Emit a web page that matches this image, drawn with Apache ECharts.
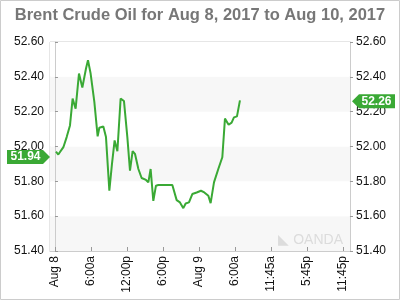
<!DOCTYPE html>
<html>
<head>
<meta charset="utf-8">
<script src="https://cdn.jsdelivr.net/npm/echarts@6/dist/echarts.min.js"></script>
<style>html,body{margin:0;padding:0;background:#fff}#c{width:400px;height:300px}</style>
</head>
<body>
<div id="c"></div>
<script>
// Hours since Aug 8, 00:00 (x axis is uniform: 6h per label step)
var hours = [0.17,0.55,1.4,1.95,2.5,2.94,3.44,4.0,4.56,5.17,5.5,5.94,6.56,7.11,7.39,8.06,8.5,9.06,9.5,9.94,10.4,10.94,11.5,12.06,12.5,12.94,13.33,13.9,14.44,15.17,15.56,15.94,16.39,16.83,17.22,19.56,20.28,20.83,21.39,21.78,22.33,22.89,23.61,24.33,24.89,25.56,25.94,26.5,27.22,27.89,28.33,28.5,28.94,29.44,29.83,30.33,30.83];
var prices = [51.97,51.954,51.996,52.054,52.121,52.275,52.217,52.419,52.338,52.448,52.496,52.419,52.256,52.058,52.108,52.115,52.054,51.746,51.9,52.035,51.973,52.275,52.261,52.054,51.861,51.973,51.958,51.871,51.819,51.808,51.794,51.871,51.688,51.775,51.779,51.779,51.692,51.679,51.646,51.673,51.679,51.727,51.736,51.746,51.736,51.717,51.675,51.794,51.871,51.938,52.16,52.165,52.125,52.137,52.167,52.173,52.265];
var tickHours = [0,6,12,18,24,30,36,42,48];
var tickLabels = ['Aug 8','6:00a','12:00p','6:00p','Aug 9','6:00a','11:45a','5:45p','11:45p'];
var openPrice = 51.94;
var lastPrice = 52.26;
var title = 'Brent Crude Oil for Aug 8, 2017 to Aug 10, 2017';

var xMin = -0.83, xMax = 49.17;
var green = '#3aa935';
var chart = echarts.init(document.getElementById('c'));
var yLabel = {fontFamily:'Liberation Sans, Arial', fontSize:12, color:'#111', formatter:function(v){return v.toFixed(2);}, margin:6};
chart.setOption({
  animation:false,
  title:{text:title, left:'center', top:2, textStyle:{fontFamily:'Liberation Sans, Arial', fontSize:16.5, fontWeight:'bold', color:'#777'}},
  grid:{left:50, right:50, top:42, bottom:49, show:true, borderColor:'#ccc', borderWidth:1},
  graphic:[
    {type:'rect', shape:{x:0.5,y:0.5,width:399,height:299}, style:{fill:'none', stroke:'#ccc', lineWidth:1}, z:-1},
    {type:'text', right:57, bottom:53, style:{text:'◣ OANDA', fill:'#dcdcdc', font:'14px Liberation Sans, Arial'}, z:1}
  ],
  xAxis:{type:'value', min:xMin, max:xMax,
    axisLine:{show:true, lineStyle:{color:'#ccc'}},
    axisTick:{show:true, inside:true, length:4, customValues:tickHours, lineStyle:{color:'#999'}},
    axisLabel:{customValues:tickHours, rotate:90, fontFamily:'Liberation Sans, Arial', fontSize:12, color:'#111', margin:5,
      formatter:function(v){var i=tickHours.indexOf(Math.round(v)); return i>=0?tickLabels[i]:'';}},
    splitLine:{show:false}},
  yAxis:[
    {type:'value', position:'left', min:51.4, max:52.6, interval:0.2,
      axisLine:{show:true, lineStyle:{color:'#ccc'}},
      axisTick:{show:true, inside:true, length:3, lineStyle:{color:'#999'}},
      axisLabel:yLabel, splitLine:{show:false},
      splitArea:{show:true, areaStyle:{color:['#f7f7f7','#ffffff']}}},
    {type:'value', position:'right', min:51.4, max:52.6, interval:0.2,
      axisLine:{show:true, lineStyle:{color:'#ccc'}},
      axisTick:{show:true, inside:false, length:3, lineStyle:{color:'#999'}},
      axisLabel:yLabel, splitLine:{show:false}, splitArea:{show:false}}
  ],
  series:[{
    type:'line', data:hours.map(function(h,i){return [h,prices[i]];}),
    showSymbol:false, lineStyle:{color:green, width:2}, itemStyle:{color:green},
    markPoint:{
      silent:true,
      data:[
        {coord:[xMin, openPrice], symbol:'path://M0,0 L36,0 L43,7 L36,14 L0,14 Z', symbolSize:[43,14], symbolOffset:[-21.5,0], symbolKeepAspect:false,
          itemStyle:{color:green}, label:{show:true, position:'inside', offset:[-3,0], formatter:openPrice.toFixed(2), color:'#fff', fontWeight:'bold', fontSize:12, fontFamily:'Liberation Sans, Arial'}},
        {coord:[xMax, lastPrice], symbol:'path://M7,0 L43,0 L43,14 L7,14 L0,7 Z', symbolSize:[43,14], symbolOffset:[23.5,0], symbolKeepAspect:false,
          itemStyle:{color:green}, label:{show:true, position:'inside', offset:[3,0], formatter:lastPrice.toFixed(2), color:'#fff', fontWeight:'bold', fontSize:12, fontFamily:'Liberation Sans, Arial'}}
      ]
    }
  }]
});
</script>
</body>
</html>
